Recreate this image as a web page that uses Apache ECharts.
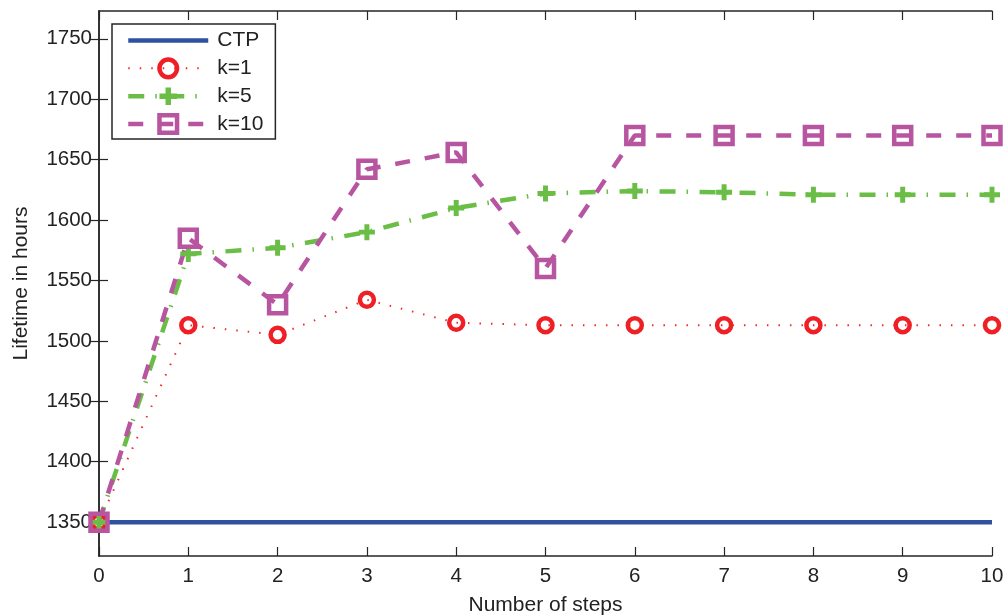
<!DOCTYPE html>
<html><head><meta charset="utf-8">
<script src="https://cdn.jsdelivr.net/npm/echarts@6/dist/echarts.min.js"></script>
<style>html,body{margin:0;padding:0;background:#fff}#c{width:1008px;height:615px}</style>
</head><body><div id="c"></div>
<script>
var steps = [0,1,2,3,4,5,6,7,8,9,10];
var ctp = [1350,1350,1350,1350,1350,1350,1350,1350,1350,1350,1350];
var k1 = [1350,1513,1505,1534,1515,1513,1513,1513,1513,1513,1513];
var k5 = [1350,1572,1577,1590,1610,1622,1624,1623,1621,1621,1621];
var k10 = [1350,1585,1530,1642,1656,1560,1670,1670,1670,1670,1670];
var yTicks = [1350,1400,1450,1500,1550,1600,1650,1700,1750];
var xTicks = [0,1,2,3,4,5,6,7,8,9,10];

function pairs(v){ return steps.map(function(s,i){ return [s, v[i]]; }); }
var FONT = '"Liberation Sans", Arial, Helvetica, sans-serif';
var axisCol = '#262626';
var plusPath = 'path://M3.45,0H6.55V3.45H10V6.55H6.55V10H3.45V6.55H0V3.45H3.45Z';
var plain = function(v){ return String(v); };

var chart = echarts.init(document.getElementById('c'), null, {renderer:'canvas'});
var baseY = {
  type:'value', min:1322, max:1773,
  axisLine:{show:true, lineStyle:{color:axisCol, width:1.5}},
  splitLine:{show:false},
  axisTick:{show:true, inside:true, length:9, customValues:yTicks, lineStyle:{color:axisCol, width:1.2}},
  axisLabel:{show:false, customValues:yTicks, formatter:plain}
};
var baseX = {
  type:'value', min:0, max:10,
  axisLine:{show:true, onZero:false, lineStyle:{color:axisCol, width:1.5}},
  splitLine:{show:false},
  axisTick:{show:true, inside:true, length:9, customValues:xTicks, lineStyle:{color:axisCol, width:1.2}},
  axisLabel:{show:false, customValues:xTicks, formatter:plain}
};
var option = {
  backgroundColor:'#fff',
  animation:false,
  grid:{left:99, right:16, top:11, bottom:59, containLabel:false, outerBoundsMode:'none'},
  legend:{
    left:112, top:24, orient:'vertical',
    backgroundColor:'#fff', borderColor:axisCol, borderWidth:1.5, borderRadius:0,
    padding:[6,12,4,14],
    itemWidth:80, itemHeight:22, itemGap:6.3,
    itemStyle:{borderWidth:4.5},
    textStyle:{fontFamily:FONT, fontSize:21, color:'#222', padding:[0,0,0,4]},
    data:[
      {name:'CTP', itemStyle:{opacity:0}, lineStyle:{width:4.5}},
      {name:'k=1', lineStyle:{width:2}},
      {name:'k=5', itemStyle:{borderWidth:0}, lineStyle:{width:4.5}},
      {name:'k=10', lineStyle:{width:4.5}}
    ]
  },
  xAxis:[
    Object.assign({}, baseX, {position:'bottom',
      name:'Number of steps', nameLocation:'middle', nameGap:39,
      nameTextStyle:{fontFamily:FONT, fontSize:21, color:'#222'},
      axisLabel:{show:true, customValues:xTicks, formatter:plain, fontFamily:FONT, fontSize:20.5, color:'#222', margin:10}}),
    Object.assign({}, baseX, {position:'top'})
  ],
  yAxis:[
    Object.assign({}, baseY, {position:'left',
      name:'Lifetime in hours', nameLocation:'middle', nameGap:67,
      nameTextStyle:{fontFamily:FONT, fontSize:21, color:'#222'},
      axisLabel:{show:true, customValues:yTicks, formatter:plain, fontFamily:FONT, fontSize:20.5, color:'#222', margin:7}}),
    Object.assign({}, baseY, {position:'right'})
  ],
  series:[
    {name:'CTP', type:'line', data:pairs(ctp), showSymbol:false, symbol:'none',
     lineStyle:{color:'#2f52a0', width:4.5}, itemStyle:{color:'#2f52a0'}},
    {name:'k=1', type:'line', data:pairs(k1), symbol:'circle', symbolSize:14,
     lineStyle:{color:'#ee2a2a', width:2, type:[1.5,10]},
     itemStyle:{color:'rgba(255,255,255,0)', borderColor:'#ee2026', borderWidth:4.5}},
    {name:'k=5', type:'line', data:pairs(k5), symbol:plusPath, symbolSize:16,
     lineStyle:{color:'#6abd45', width:4.5, type:[16,11,1.5,11.5]},
     itemStyle:{color:'#6abd45', borderWidth:0}},
    {name:'k=10', type:'line', data:pairs(k10), symbol:'rect', symbolSize:17,
     lineStyle:{color:'#b855a1', width:4.5, type:[15,15]},
     itemStyle:{color:'rgba(255,255,255,0)', borderColor:'#b855a1', borderWidth:4.5}}
  ]
};
chart.setOption(option);
</script></body></html>
